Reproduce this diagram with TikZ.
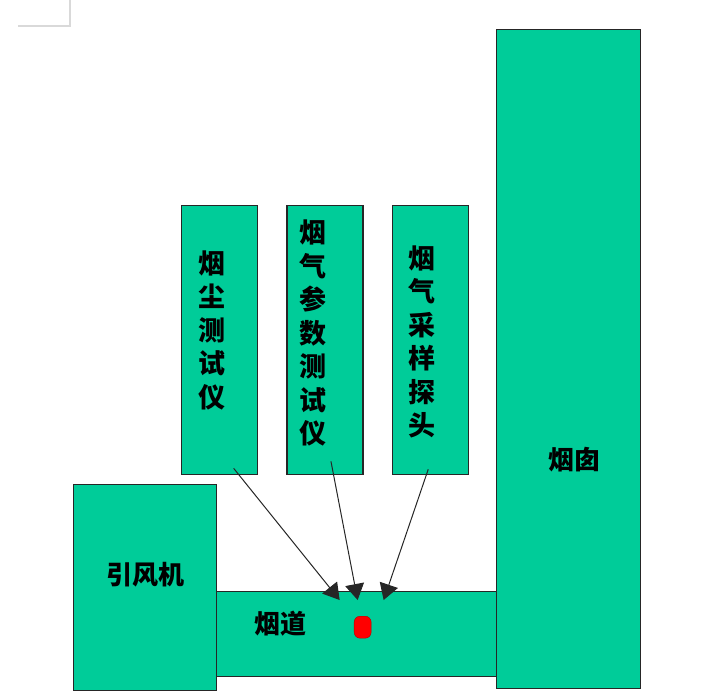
\documentclass[tikz,border=0pt]{standalone}
\usepackage{fontspec}
\newfontfamily\cjk{Noto Sans CJK SC}
\usetikzlibrary{arrows.meta, positioning}

\definecolor{seagreen}{RGB}{0,204,153}

\begin{document}
\begin{tikzpicture}[x=1pt, y=-1pt,
            % Styles
            part/.style={rectangle, draw=black!85, fill=seagreen, line width=1.3pt, inner sep=0pt, anchor=north west},
            meter/.style={part, minimum width=76pt, minimum height=269pt},
            vtext/.style={font=\cjk\bfseries\fontsize{27}{33.5}\selectfont, align=center, inner sep=0pt},
            htext/.style={font=\cjk\bfseries\fontsize{26}{30}\selectfont, inner sep=0pt},
            line/.style={draw=black!85, line width=1pt, -{Triangle[length=16pt, width=19pt]}}
        ]

        \useasboundingbox (0,0) rectangle (710,697);

        % Page corner mark
        \draw [black!15, line width=1.2pt] (70,0) -- (70,26) -- (18,26);

        % Flue, fan and chimney
        \node [part, minimum width=280pt, minimum height=85pt] (flue) at (216,591) {};
        \node [part, minimum width=143pt, minimum height=206pt] (fan) at (73,484) {};
        \node [part, minimum width=144pt, minimum height=659pt] (chimney) at (496,29) {};

        % Instruments
        \node [meter] (dust) at (181,205) {};
        \node [meter, right=28pt of dust.north east, anchor=north west] (param) {};
        \node [meter, right=28pt of param.north east, anchor=north west] (probe) {};

        % Labels
        \node [vtext, xshift=-8pt, yshift=10pt] at (dust.center) {烟\\尘\\测\\试\\仪};
        \node [vtext, xshift=-12pt, yshift=7pt] at (param.center) {烟\\气\\参\\数\\测\\试\\仪};
        \node [vtext, xshift=-8pt, yshift=-2pt] at (probe.center) {烟\\气\\采\\样\\探\\头};
        \node [htext, yshift=13pt] at (fan.center) {引风机};
        \node [htext, xshift=-76pt, yshift=11pt] at (flue.center) {烟道};
        \node [htext, xshift=6pt, yshift=-100pt] at (chimney.center) {烟囱};

        % Sampling point
        \node [rectangle, rounded corners=6pt, draw=red!70!black, fill=red, minimum width=17pt, minimum height=22pt, inner sep=0pt,
               below=25pt of flue.north, xshift=6pt] (point) {};

        % Arrows
        \coordinate (t1) at ([xshift=-17pt, yshift=-9pt]flue.north);
        \coordinate (t2) at ([xshift=1pt, yshift=-9pt]flue.north);
        \coordinate (t3) at ([xshift=27pt, yshift=-9pt]flue.north);
        \path [line] ([xshift=14pt, yshift=7pt]dust.south) -- (t1);
        \path [line] ([xshift=6pt, yshift=14pt]param.south) -- (t2);
        \path [line] ([xshift=-2pt, yshift=6pt]probe.south) -- (t3);

    \end{tikzpicture}
\end{document}
